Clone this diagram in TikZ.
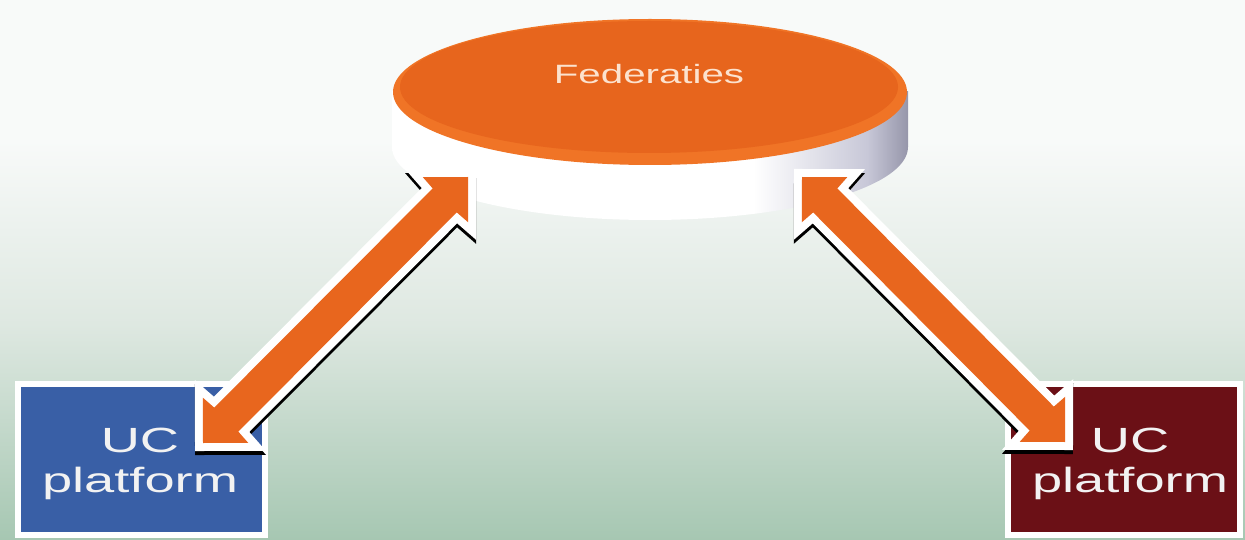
\documentclass[tikz,border=0pt]{standalone}
\usepackage{fontspec}
\setmainfont{Liberation Sans}
\usepackage{graphicx}
\usetikzlibrary{calc}
\definecolor{bgtop}{RGB}{248,250,249}
\definecolor{bgmid}{RGB}{222,232,225}
\definecolor{bgbot}{RGB}{166,199,178}
\definecolor{arrorange}{RGB}{232,102,30}
\definecolor{orrim}{RGB}{240,116,38}
\definecolor{orface}{RGB}{231,101,29}
\definecolor{sidegray}{RGB}{200,200,216}
\definecolor{sidedark}{RGB}{150,150,170}
\definecolor{ucblue}{RGB}{57,95,166}
\definecolor{ucred}{RGB}{107,16,22}
\definecolor{fedtext}{RGB}{252,226,206}
\definecolor{uctext}{RGB}{242,242,242}
\pgfdeclareverticalshading{bgshade}{100bp}{color(0bp)=(bgbot); color(25bp)=(bgbot); color(45bp)=(bgmid); color(62bp)=(bgtop); color(75bp)=(bgtop); color(100bp)=(bgtop)}
\pgfdeclarehorizontalshading{diskside}{100bp}{color(0bp)=(white); color(25bp)=(white); color(60bp)=(white); color(71bp)=(sidegray); color(75bp)=(sidedark); color(100bp)=(sidedark)}
\newcommand\dblarrowpath[2]{%
 (#1) -- ($(#1)!32pt!(#2)!32pt!90:(#2)$)
 -- ($(#1)!33pt!(#2)!17pt!90:(#2)$)
 -- ($(#2)!33pt!(#1)!17pt!-90:(#1)$)
 -- ($(#2)!32pt!(#1)!32pt!-90:(#1)$)
 -- (#2)
 -- ($(#2)!32pt!(#1)!32pt!90:(#1)$)
 -- ($(#2)!33pt!(#1)!17pt!90:(#1)$)
 -- ($(#1)!33pt!(#2)!17pt!-90:(#2)$)
 -- ($(#1)!32pt!(#2)!32pt!-90:(#2)$)
 -- cycle}
\tikzset{
 ucbox/.style={draw=white, line width=6pt, minimum width=247pt, minimum height=151pt, inner sep=0pt},
 uclabel/.style={text=uctext, align=center, font=\fontsize{35}{40}\selectfont, inner sep=0pt},
 fedlabel/.style={text=fedtext, font=\fontsize{26.5}{30}\selectfont, inner sep=0pt},
 arrshadow/.style={draw=black, fill=black, line width=16pt, line join=miter, transform canvas={yshift=-4pt}},
 arrborder/.style={draw=white, line width=16pt, line join=miter},
 arrfill/.style={fill=arrorange}
}
\begin{document}
\begin{tikzpicture}[x=1pt,y=-1pt]
\useasboundingbox (0,0) rectangle (1245,540);
\shade[shading=bgshade] (0,0) rectangle (1245,540);
% disk
\shade[shading=diskside] (392,92) rectangle (908,147);
\shade[shading=diskside] (650,147) ellipse [x radius=258, y radius=73];
\fill[orrim] (650,92) ellipse [x radius=257, y radius=73];
\fill[orface] (649,87) ellipse [x radius=249, y radius=66];
\node[fedlabel] (fed) at (649,74) {\scalebox{1.52}[1]{Federaties}};
% boxes
\node[ucbox, fill=ucblue] (boxl) at (141.5,459) {};
\node[uclabel] (lblL) at (140,463.5) {\scalebox{1.55}[1]{UC}\\\scalebox{1.55}[1]{platform}};
\node[ucbox, fill=ucred, minimum width=232pt] (boxr) at (1124,459) {};
\node[uclabel] (lblR) at (1130,463.5) {\scalebox{1.55}[1]{UC}\\\scalebox{1.55}[1]{platform}};
% arrow end points
\coordinate (lt) at (468,177);
\coordinate (lb) at (203,443);
\coordinate (rt) at (802,177);
\coordinate (rb) at (1065,442);
% left arrow
\path[arrshadow] \dblarrowpath{lt}{lb};
\path[arrborder] \dblarrowpath{lt}{lb};
\path[arrfill] \dblarrowpath{lt}{lb};
% right arrow
\path[arrshadow] \dblarrowpath{rt}{rb};
\path[arrborder] \dblarrowpath{rt}{rb};
\path[arrfill] \dblarrowpath{rt}{rb};
\end{tikzpicture}
\end{document}
